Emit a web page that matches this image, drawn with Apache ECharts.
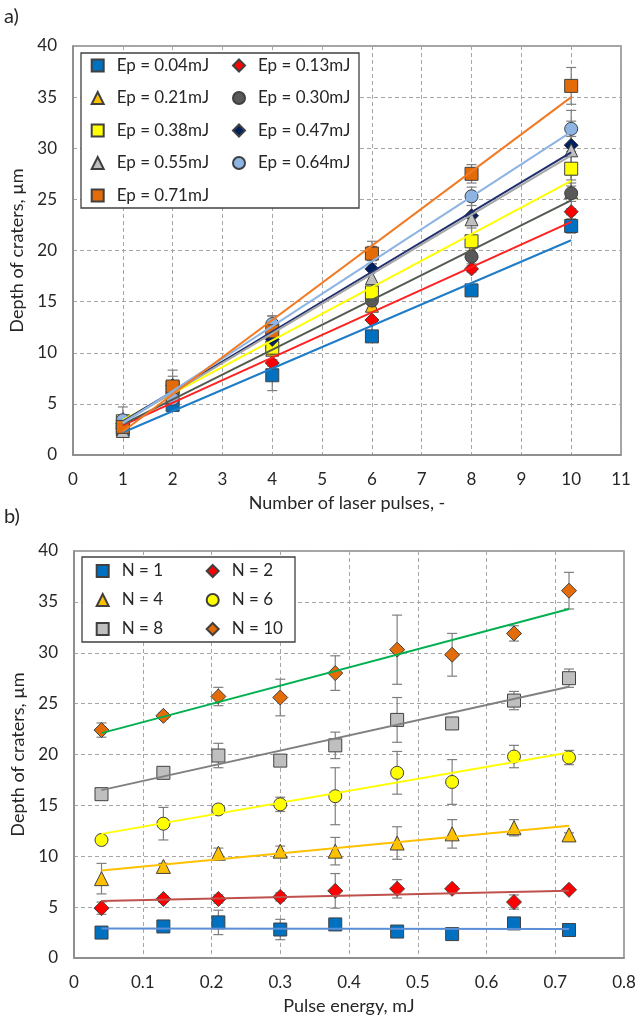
<!DOCTYPE html>
<html><head><meta charset="utf-8">
<script src="https://cdn.jsdelivr.net/npm/echarts@6/dist/echarts.min.js"></script>
<style>html,body{margin:0;padding:0;background:#fff}#c{width:644px;height:1018px}</style>
</head><body><div id="c"></div>
<script>
// ---- data ----
const energies = [0.04, 0.13, 0.21, 0.30, 0.38, 0.47, 0.55, 0.64, 0.72];
const energyLabels = ['Ep = 0.04mJ','Ep = 0.13mJ','Ep = 0.21mJ','Ep = 0.30mJ','Ep = 0.38mJ','Ep = 0.47mJ','Ep = 0.55mJ','Ep = 0.64mJ','Ep = 0.71mJ'];
const pulses = [1, 2, 4, 6, 8, 10];
const pulseLabels = ['N = 1','N = 2','N = 4','N = 6','N = 8','N = 10'];

// depth of craters (µm) per pulse count, over energies
const depthN1  = [2.5, 3.1, 3.5, 2.8, 3.3, 2.6, 2.35, 3.4, 2.75];
const depthN2  = [4.9, 5.8, 5.8, 6.0, 6.6, 6.8, 6.8, 5.5, 6.7];
const depthN4  = [7.8, 9.0, 10.3, 10.5, 10.5, 11.3, 12.2, 12.8, 12.1];
const depthN6  = [11.6, 13.2, 14.6, 15.1, 15.9, 18.2, 17.3, 19.8, 19.7];
const depthN8  = [16.1, 18.2, 19.9, 19.4, 20.9, 23.4, 23.05, 25.3, 27.5];
const depthN10 = [22.4, 23.8, 25.7, 25.6, 28.0, 30.3, 29.8, 31.9, 36.1];

// error bar half-widths
const errN1  = [0.3, 0.3, 1.2, 1.0, 0.3, 0.2, 0.2, 0.3, 0.2];
const errN2  = [0.6, 0.3, 0.4, 0.4, 1.7, 0.9, 0.3, 0.7, 0.2];
const errN4  = [1.5, 0.3, 0.5, 0.5, 1.35, 1.6, 1.4, 0.8, 0.2];
const errN6  = [0.3, 1.6, 0.3, 0.7, 2.8, 2.1, 2.2, 1.1, 0.7];
const errN8  = [0.3, 0.3, 1.2, 0.4, 1.3, 2.2, 0.3, 0.9, 0.9];
const errN10 = [0.7, 0.3, 0.9, 1.8, 1.7, 3.4, 2.1, 0.75, 1.8];

// trend lines (value at N=1 and N=10)
const trendTopStart = [2.2, 2.9, null, 3.0, 3.4, 3.3, 3.2, 3.1, 2.3];
const trendTopEnd   = [21.0, 22.8, null, 24.9, 26.8, 29.6, 29.3, 31.6, 35.0];
// trend lines bottom chart (value at Ep=0.04 and Ep=0.72)
const trendBotStart = [2.9, 5.6, 8.6, 12.2, 16.5, 22.1];
const trendBotEnd   = [2.85, 6.6, 13.0, 20.2, 26.65, 34.3];

// ---- styles ----
const FONT = 'Lato';
const TXT = '#262626';
const topSym = ['rect','diamond','triangle','circle','rect','diamond','triangle','circle','rect'];
const topFill = ['#0070C0','#FF0000','#FFC000','#595959','#FFFF00','#002060','#BFBFBF','#8DB4E2','#E36C09'];
const topSize = [13,14,13,13,13,14,13,13,13];
const topLine = ['#1F7DC8','#FF2020',null,'#535B50','#FFFF00','#1F2F6F','#A6A6A6','#8DB4E2','#F27A22'];
const botSym = ['rect','diamond','triangle','circle','rect','diamond'];
const botFill = ['#0070C0','#FF0000','#FFC000','#FFFF00','#BFBFBF','#E36C09'];
const botSize = [13,15,14,13,13,15];
const botLine = ['#5B8ED6','#C0504D','#FFC000','#FFFF00','#808080','#00B050'];

const depthByN = [depthN1, depthN2, depthN4, depthN6, depthN8, depthN10];
const errByN = [errN1, errN2, errN4, errN6, errN8, errN10];

function errRender(params, api) {
  const x = api.value(0), y = api.value(1), e = api.value(2);
  const hi = api.coord([x, y + e]), lo = api.coord([x, y - e]);
  const cw = 5;
  const style = {stroke: '#7F7F7F', lineWidth: 1.2, fill: null};
  return {type: 'group', children: [
    {type: 'line', shape: {x1: hi[0], y1: hi[1], x2: lo[0], y2: lo[1]}, style: style},
    {type: 'line', shape: {x1: hi[0] - cw, y1: hi[1], x2: hi[0] + cw, y2: hi[1]}, style: style},
    {type: 'line', shape: {x1: lo[0] - cw, y1: lo[1], x2: lo[0] + cw, y2: lo[1]}, style: style}
  ]};
}

const series = [];
// top error bars
const topErr = [];
energies.forEach((e, i) => pulses.forEach((n, k) => topErr.push([n, depthByN[k][i], errByN[k][i]])));
series.push({type: 'custom', xAxisIndex: 0, yAxisIndex: 0, z: 2, silent: true, renderItem: errRender, data: topErr, encode: {x: 0, y: 1}});
// bottom error bars
const botErr = [];
pulses.forEach((n, k) => energies.forEach((e, i) => botErr.push([e, depthByN[k][i], errByN[k][i]])));
series.push({type: 'custom', xAxisIndex: 1, yAxisIndex: 1, z: 2, silent: true, renderItem: errRender, data: botErr, encode: {x: 0, y: 1}});

// top markers
energies.forEach((e, i) => {
  series.push({
    type: 'scatter', name: energyLabels[i], xAxisIndex: 0, yAxisIndex: 0, z: 3,
    symbol: topSym[i], symbolSize: topSize[i],
    itemStyle: {color: topFill[i], borderColor: '#404040', borderWidth: 1, opacity: 1},
    data: pulses.map((n, k) => [n, depthByN[k][i]])
  });
});
// top trend lines
energies.forEach((e, i) => {
  if (trendTopStart[i] == null) return;
  series.push({
    type: 'line', name: 'trend ' + energyLabels[i], xAxisIndex: 0, yAxisIndex: 0, z: 4,
    symbol: 'none', silent: true, lineStyle: {color: topLine[i], width: 2},
    data: [[pulses[0], trendTopStart[i]], [pulses[pulses.length - 1], trendTopEnd[i]]]
  });
});
// bottom markers
pulses.forEach((n, k) => {
  series.push({
    type: 'scatter', name: pulseLabels[k], xAxisIndex: 1, yAxisIndex: 1, z: 3,
    symbol: botSym[k], symbolSize: botSize[k],
    itemStyle: {color: botFill[k], borderColor: '#404040', borderWidth: 1, opacity: 1},
    data: energies.map((e, i) => [e, depthByN[k][i]])
  });
});
// bottom trend lines
pulses.forEach((n, k) => {
  series.push({
    type: 'line', name: 'trend ' + pulseLabels[k], xAxisIndex: 1, yAxisIndex: 1, z: 4,
    symbol: 'none', silent: true, lineStyle: {color: botLine[k], width: 2},
    data: [[energies[0], trendBotStart[k]], [energies[energies.length - 1], trendBotEnd[k]]]
  });
});

const splitLine = {show: true, lineStyle: {color: '#A6A6A6', width: 1, type: [4, 3]}};
const axisLine = {show: true, lineStyle: {color: '#888888', width: 1.5}};
const lbl = {color: TXT, fontFamily: FONT, fontSize: 17};
const nameStyle = {color: TXT, fontFamily: FONT, fontSize: 18};

function legendCol(data, left, top, gap) {
  return {
    data: data, orient: 'vertical', left: left, top: top, padding: 0,
    itemWidth: 12, itemHeight: 12, itemGap: gap, z: 10,
    textStyle: {color: TXT, fontFamily: FONT, fontSize: 17, lineHeight: 14, padding: [0, 0, 0, 8]},
    selectedMode: false
  };
}

const option = {
  animation: false,
  backgroundColor: '#fff',
  grid: [
    {left: 73, top: 46, width: 548, height: 409, show: true, borderColor: '#888888', borderWidth: 1.5, backgroundColor: 'transparent'},
    {left: 74, top: 551, width: 550, height: 407, show: true, borderColor: '#888888', borderWidth: 1.5, backgroundColor: 'transparent'}
  ],
  xAxis: [
    {gridIndex: 0, type: 'value', min: 0, max: 11, interval: 1, axisLine: axisLine, axisTick: {show: false},
     splitLine: splitLine, axisLabel: Object.assign({margin: 16}, lbl),
     name: 'Number of laser pulses, -', nameLocation: 'middle', nameGap: 39, nameTextStyle: nameStyle},
    {gridIndex: 1, type: 'value', min: 0, max: 0.8, interval: 0.1, axisLine: axisLine, axisTick: {show: false},
     splitLine: splitLine, axisLabel: Object.assign({margin: 16}, lbl),
     name: 'Pulse energy, mJ', nameLocation: 'middle', nameGap: 39, nameTextStyle: nameStyle}
  ],
  yAxis: [
    {gridIndex: 0, type: 'value', min: 0, max: 40, interval: 5, axisLine: axisLine, axisTick: {show: false},
     splitLine: splitLine, axisLabel: Object.assign({margin: 16}, lbl),
     name: 'Depth of craters, µm', nameLocation: 'middle', nameGap: 39, nameRotate: 90, nameTextStyle: nameStyle},
    {gridIndex: 1, type: 'value', min: 0, max: 40, interval: 5, axisLine: axisLine, axisTick: {show: false},
     splitLine: splitLine, axisLabel: Object.assign({margin: 16}, lbl),
     name: 'Depth of craters, µm', nameLocation: 'middle', nameGap: 40, nameRotate: 90, nameTextStyle: nameStyle}
  ],
  legend: [
    legendCol([energyLabels[0], energyLabels[2], energyLabels[4], energyLabels[6], energyLabels[8]], 90.7, 57, 15.5),
    legendCol([energyLabels[1], energyLabels[3], energyLabels[5], energyLabels[7]], 232, 57, 15.5),
    legendCol([pulseLabels[0], pulseLabels[2], pulseLabels[4]], 95.7, 562.5, 12),
    legendCol([pulseLabels[1], pulseLabels[3], pulseLabels[5]], 205.7, 562.5, 12)
  ],
  graphic: [
    {type: 'rect', z: 9, shape: {x: 81, y: 53, width: 278, height: 155}, style: {fill: '#fff', stroke: '#404040', lineWidth: 1.3}},
    {type: 'rect', z: 9, shape: {x: 82, y: 557, width: 213, height: 85}, style: {fill: '#fff', stroke: '#404040', lineWidth: 1.3}},
    {type: 'text', z: 9, left: 4, top: 7, style: {text: 'a)', fill: TXT, font: '20px Lato'}},
    {type: 'text', z: 9, left: 4, top: 507, style: {text: 'b)', fill: TXT, font: '20px Lato'}}
  ],
  series: series
};

const chart = echarts.init(document.getElementById('c'), null, {renderer: 'canvas'});
chart.setOption(option);
</script>
</body></html>
